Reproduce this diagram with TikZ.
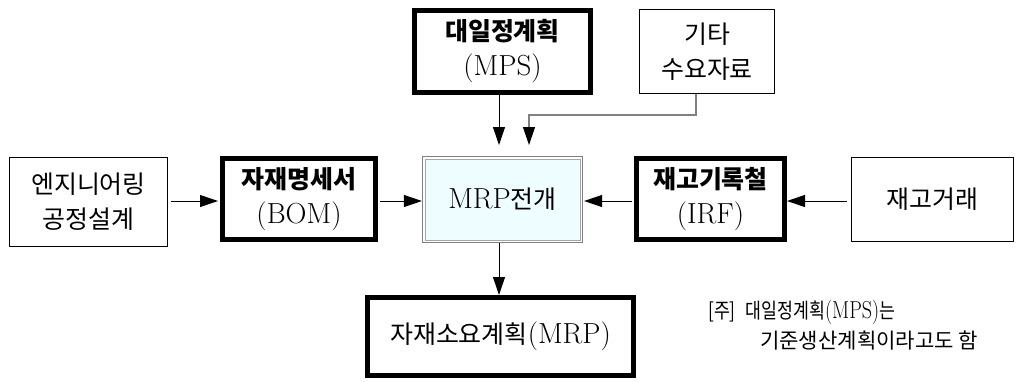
\documentclass[tikz,border=0pt]{standalone}
\usepackage{fontspec}
\usepackage{graphicx}
\newfontfamily\krfont[Scale=0.86]{Noto Sans CJK KR}
\newcommand\kor[1]{{\krfont #1}}
\newcommand\korb[1]{{\krfont\bfseries #1}}
\usetikzlibrary{arrows.meta}
\definecolor{mrpfill}{RGB}{238,253,255}
\definecolor{linegray}{RGB}{128,128,128}
\begin{document}
\begin{tikzpicture}[x=1pt,y=-1pt,
  thickbox/.style={draw, line width=5pt, align=center, inner sep=0pt, font=\fontsize{29}{35}\selectfont},
  thinbox/.style={draw, line width=1.2pt, align=center, inner sep=0pt, font=\fontsize{29}{35}\selectfont},
  arr/.style={line width=1pt, -{Triangle[length=18pt,width=12pt]}},
  grayarr/.style={line width=1.2pt, draw=linegray, -{Triangle[length=18pt,width=12pt,color=black]}},
  notetext/.style={anchor=west, inner sep=0pt, font=\fontsize{24.5}{28}\selectfont},
]
\useasboundingbox (0,0) rectangle (1019,381);

% boxes
\node[thickbox, minimum width=176pt, minimum height=82pt] (mps) at (502.5,51.5) {\korb{대일정계획}\\(MPS)};
\node[thinbox, minimum width=135pt, minimum height=84pt] (etc) at (707,51.5) {\kor{기타}\\\kor{수요자료}};
\node[thinbox, minimum width=158pt, minimum height=89pt] (eng) at (88.5,202) {\kor{엔지니어링}\\\kor{공정설계}};
\node[thickbox, minimum width=153pt, minimum height=81pt] (bom) at (299,199) {\korb{자재명세서}\\(BOM)};
\node[draw=linegray, fill=white, line width=1.2pt, minimum width=160pt, minimum height=86pt, inner sep=0pt] (ctr) at (502.5,199.5) {};
\fill[mrpfill, draw=linegray!70, line width=0.8pt] ([xshift=3pt,yshift=-3pt]ctr.north west) rectangle ([xshift=-3pt,yshift=3pt]ctr.south east);
\node[inner sep=0pt, font=\fontsize{29}{35}\selectfont] (ctrtext) at (ctr.center) {MRP\kor{전개}};
\node[thickbox, minimum width=148pt, minimum height=81pt] (irf) at (710.5,199) {\korb{재고기록철}\\(IRF)};
\node[thinbox, minimum width=162pt, minimum height=84pt] (trans) at (932.5,199.5) {\kor{재고거래}};
\node[thickbox, minimum width=266pt, minimum height=78pt] (mrp) at (500.5,336.5) {\kor{자재소요계획}(MRP)};

% note
\node[notetext] (note1) at (708,312) {\scalebox{0.82}[1]{\kor{[주]}\hspace{12pt}\kor{대일정계획}(MPS)\kor{는}}};
\node[notetext] (note2) at (760,341) {\kor{기준생산계획이라고도 함}};

% connectors
\coordinate (t1) at (499,145);
\coordinate (t2) at (529,145);
\coordinate (bendR) at (696,115);
\coordinate (bendL) at (529,115);
\draw[arr] (mps.south -| t1) -- (t1);
\draw[grayarr] (etc.south -| bendR) -- (bendR) -- (bendL) -- (t2);
\draw[arr, shorten <=3pt, shorten >=2pt] (eng.east |- 0,201) -- (bom.west |- 0,201);
\draw[arr, shorten <=2pt] (bom.east |- 0,201) -- (ctr.west |- 0,201);
\draw[arr, shorten <=2pt, shorten >=1pt] (irf.west |- 0,201) -- (ctr.east |- 0,201);
\draw[arr, shorten <=4pt] (trans.west |- 0,201) -- (irf.east |- 0,201);
\draw[arr] (ctr.south -| t1) -- (mrp.north -| t1);
\end{tikzpicture}
\end{document}
